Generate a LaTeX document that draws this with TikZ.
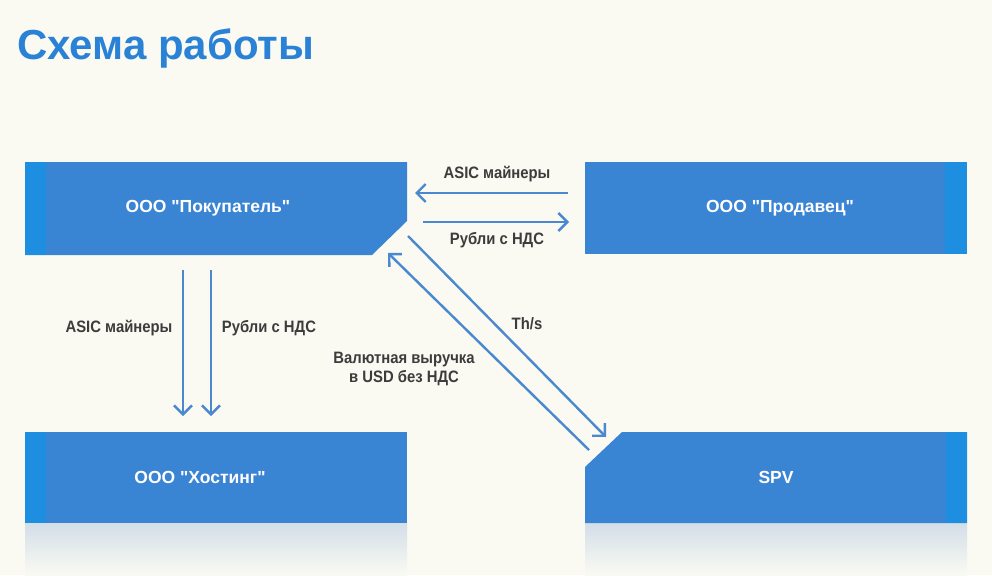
\documentclass[tikz,border=0pt]{standalone}
\usepackage{fontspec}
\setmainfont[Ligatures=TeXOff]{Liberation Sans}
\newfontfamily\narrowfont[FakeStretch=0.9,Ligatures=TeXOff]{Liberation Sans}
\usetikzlibrary{arrows.meta,calc}
\definecolor{bg}{HTML}{FAFAF2}
\definecolor{boxblue}{HTML}{3A84D4}
\definecolor{stripeblue}{HTML}{1E8EE0}
\definecolor{arrowblue}{HTML}{4A88D0}
\definecolor{titleblue}{HTML}{2A82D6}
\definecolor{labelgray}{HTML}{3C3C3C}
\definecolor{reflect}{HTML}{D3DEE8}
\tikzset{
  x=1pt,y=-1pt,
  boxtxt/.style={text=white,font=\fontsize{17.5}{20}\selectfont\bfseries,minimum width=382pt,minimum height=92pt,inner sep=0pt},
  lbl/.style={text=labelgray,font=\narrowfont\fontsize{16.5}{19}\selectfont\bfseries,inner sep=0pt,align=center},
  arr/.style={draw=arrowblue,line width=2.4pt,-{Straight Barb[length=9pt,width=18pt,line width=2.4pt]}},
}
\begin{document}
\begin{tikzpicture}
\fill[bg] (0,0) rectangle (992,575);
\useasboundingbox (0,0) rectangle (992,575);
% title
\node[anchor=base west,inner sep=0pt,text=titleblue,font=\fontsize{42}{48}\selectfont\bfseries] (title) at (17,60) {Схема работы};
% reflections
\shade[top color=reflect,bottom color=bg] (25,523) rectangle (407,575);
\shade[top color=reflect,bottom color=bg] (585,523) rectangle (967,575);
% box shapes
\fill[boxblue] (25,162) -- (407,162) -- (407,221) -- (372,255) -- (25,255) -- cycle;
\fill[stripeblue] (25,162) rectangle (46,255);
\fill[boxblue] (585,162) rectangle (967,254);
\fill[stripeblue] (945,162) rectangle (967,254);
\fill[boxblue] (25,432) rectangle (407,523);
\fill[stripeblue] (25,432) rectangle (46,523);
\fill[boxblue] (622,432) -- (967,432) -- (967,523) -- (585,523) -- (585,467) -- cycle;
\fill[stripeblue] (946,432) rectangle (967,523);
% box nodes
\node[boxtxt] (buyer) at (208,208.5) {ООО "Покупатель"};
\node[boxtxt] (seller) at (780,208) {ООО "Продавец"};
\node[boxtxt] (host) at (200,477.5) {ООО "Хостинг"};
\node[boxtxt] (spv) at (776,477.5) {SPV};
% connector end points
\coordinate (a1s) at (568,193);
\coordinate (a1e) at (415,193);
\coordinate (a2s) at (423,222);
\coordinate (a2e) at (569,222);
\coordinate (v1s) at (183,270);
\coordinate (v1e) at (183,416);
\coordinate (v2s) at (211,270);
\coordinate (v2e) at (211,416);
\coordinate (d1s) at (408,236);
\coordinate (d1e) at (606,437);
\coordinate (d2s) at (589,450);
\coordinate (d2e) at (388,253);
% connectors
\draw[arr] (a1s) -- (a1e);
\draw[arr] (a2s) -- (a2e);
\draw[arr] (v1s) -- (v1e);
\draw[arr] (v2s) -- (v2e);
\draw[arr] (d1s) -- (d1e);
\draw[arr] (d2s) -- (d2e);
% labels
\node[lbl] (l1) at (497,174) {ASIC майнеры};
\node[lbl] (l2) at (497,240) {Рубли с НДС};
\node[lbl] (l3) at (119,328) {ASIC майнеры};
\node[lbl] (l4) at (269,328) {Рубли с НДС};
\node[lbl] (l5) at (527,324) {Th/s};
\node[lbl] (l6) at (404,369) {Валютная выручка\\в USD без НДС};
\end{tikzpicture}
\end{document}
